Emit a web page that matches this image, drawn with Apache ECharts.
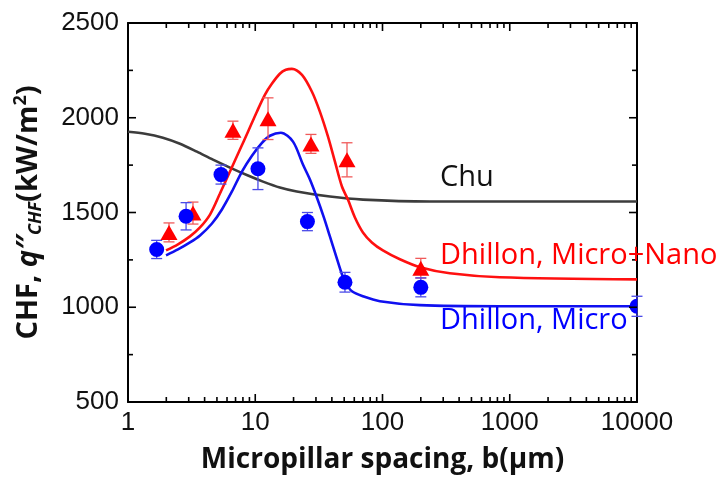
<!DOCTYPE html>
<html>
<head>
<meta charset="utf-8">
<script src="https://cdn.jsdelivr.net/npm/echarts@6/dist/echarts.min.js"></script>
<style>
html,body{margin:0;padding:0;background:#fff;}
#chart{width:722px;height:479px;}
</style>
</head>
<body>
<div id="chart"></div>
<script>
// ---- data ----
const blueX   = [1.68, 2.86, 5.38, 10.5, 25.7, 50.7, 200, 10000];
const blueY   = [1305, 1480, 1700, 1731, 1452, 1132, 1105, 1005];
const blueErr = [48, 72, 50, 110, 48, 52, 50, 53];

const redX   = [2.1, 3.24, 6.68, 12.6, 27.4, 52.6, 200];
const redY   = [1395, 1497, 1934, 1995, 1862, 1778, 1206];
const redErr = [50, 58, 48, 110, 50, 90, 52];

const redCurveX = [1.99, 2.47, 3.07, 3.68, 4.41, 5.28, 6.33, 7.58, 8.77, 10.3, 11.9, 13.5, 15.6, 17.4, 19.4,
                   23.3, 27.9, 32.2, 37.3, 42.3, 48.0, 53.5, 60.7, 70.2, 82.5, 100.7, 137, 197, 338, 836, 10000];
const redCurveY = [1300, 1332, 1374, 1421, 1489, 1600, 1716, 1832, 1926, 2032, 2121, 2179, 2232, 2253, 2258,
                   2226, 2137, 2032, 1900, 1768, 1637, 1568, 1474, 1395, 1342, 1300, 1253, 1211, 1179, 1158, 1147];

const blueCurveX = [1.99, 2.47, 3.07, 3.68, 4.57, 5.47, 6.56, 7.86, 9.42, 11.29, 13.05, 15.9, 19.8, 23.7, 26.9,
                    30.5, 34.6, 38.6, 43.0, 48.0, 51.6, 57.5, 70.2, 95.4, 197, 836, 10000];
const blueCurveY = [1274, 1305, 1342, 1379, 1442, 1516, 1611, 1716, 1800, 1868, 1905, 1921, 1874, 1753, 1674,
                    1579, 1474, 1374, 1274, 1174, 1126, 1084, 1058, 1032, 1011, 1005, 1005];

const grayCurveX = [1, 1.36, 1.88, 2.56, 3.48, 4.65, 6.33, 8.77, 11.5, 15.6, 21.2, 38.6, 70.2, 235, 10000];
const grayCurveY = [1926, 1916, 1895, 1863, 1821, 1779, 1737, 1695, 1663, 1632, 1611, 1584, 1568, 1558, 1558];

const xTickLabels = ['1', '10', '100', '1000', '10000'];
const yTickLabels = ['500', '1000', '1500', '2000', '2500'];
const xMajorTicks = [1, 10, 100, 1000, 10000];
const xMinorTicks = [2,3,4,5,6,7,8,9,20,30,40,50,60,70,80,90,200,300,400,500,600,700,800,900,2000,3000,4000,5000,6000,7000,8000,9000];
const yMajorTicks = [500, 1000, 1500, 2000, 2500];
const yMinorTicks = [750, 1250, 1750, 2250];

const curveLabels = ['Chu', 'Dhillon, Micro+Nano', 'Dhillon, Micro'];

// ---- helpers ----
const zip = (xs, ys) => xs.map((x, i) => [x, ys[i]]);
const zip3 = (xs, ys, es) => xs.map((x, i) => [x, ys[i], es[i]]);
const X_MIN = 1, X_MAX = 10000, Y_MIN = 500, Y_MAX = 2500;
const MAJOR_LEN = 8, MINOR_LEN = 5;

function errorBarRender(color) {
  return function (params, api) {
    const x = api.value(0), y = api.value(1), e = api.value(2);
    const top = api.coord([x, y + e]);
    const bot = api.coord([x, y - e]);
    const hw = 5.5;
    const st = { stroke: color, lineWidth: 1.3 };
    return {
      type: 'group',
      children: [
        { type: 'line', shape: { x1: top[0], y1: top[1], x2: bot[0], y2: bot[1] }, style: st },
        { type: 'line', shape: { x1: top[0] - hw, y1: top[1], x2: top[0] + hw, y2: top[1] }, style: st },
        { type: 'line', shape: { x1: bot[0] - hw, y1: bot[1], x2: bot[0] + hw, y2: bot[1] }, style: st }
      ]
    };
  };
}

// x ticks (bottom + top); data item: [x, yInRange, isMajor]
function xTickRender(params, api) {
  const v = api.value(0), L = api.value(2) ? MAJOR_LEN : MINOR_LEN;
  const b = api.coord([v, Y_MIN]);
  const t = api.coord([v, Y_MAX]);
  const st = { stroke: '#000000', lineWidth: 1.6 };
  return {
    type: 'group',
    children: [
      { type: 'line', shape: { x1: b[0], y1: b[1], x2: b[0], y2: b[1] - L }, style: st },
      { type: 'line', shape: { x1: t[0], y1: t[1], x2: t[0], y2: t[1] + L }, style: st }
    ]
  };
}
// y ticks (left + right); data item: [xInRange, y, isMajor]
function yTickRender(params, api) {
  const v = api.value(1), L = api.value(2) ? MAJOR_LEN : MINOR_LEN;
  const l = api.coord([X_MIN, v]);
  const r = api.coord([X_MAX, v]);
  const st = { stroke: '#000000', lineWidth: 1.6 };
  return {
    type: 'group',
    children: [
      { type: 'line', shape: { x1: l[0], y1: l[1], x2: l[0] + L, y2: l[1] }, style: st },
      { type: 'line', shape: { x1: r[0], y1: r[1], x2: r[0] - L, y2: r[1] }, style: st }
    ]
  };
}
// points clipped to the plot rectangle
function pointRender(kind, color) {
  return function (params, api) {
    const p = api.coord([api.value(0), api.value(1)]);
    const tl = api.coord([X_MIN, Y_MAX]);
    const br = api.coord([X_MAX, Y_MIN]);
    const clip = { type: 'rect', shape: { x: tl[0], y: tl[1], width: br[0] - tl[0], height: br[1] - tl[1] } };
    if (kind === 'circle') {
      return { type: 'circle', shape: { cx: p[0], cy: p[1], r: 7.5 }, style: { fill: color }, clipPath: clip };
    }
    const w = 8.5, h = 7.5;
    return {
      type: 'polygon',
      shape: { points: [[p[0], p[1] - h], [p[0] + w, p[1] + h], [p[0] - w, p[1] + h]] },
      style: { fill: color }, clipPath: clip
    };
  };
}

const chart = echarts.init(document.getElementById('chart'), null, { renderer: 'canvas' });

const xFmt = v => { const i = Math.round(Math.log10(v)); return xTickLabels[i] !== undefined ? xTickLabels[i] : ''; };
const yFmt = v => { const i = Math.round((v - 500) / 500); return yTickLabels[i] !== undefined ? yTickLabels[i] : ''; };

const axisLine = { show: true, lineStyle: { color: '#000', width: 2 } };
const fontTick = 'Liberation Sans';

const xTickData = xMajorTicks.map(v => [v, 1000, 1]).concat(xMinorTicks.map(v => [v, 1000, 0]));
const yTickData = yMajorTicks.map(v => [10, v, 1]).concat(yMinorTicks.map(v => [10, v, 0]));

const option = {
  animation: false,
  backgroundColor: '#fff',
  grid: { left: 128, right: 85, top: 23, bottom: 76, containLabel: false },
  xAxis: [
    {
      type: 'log', logBase: 10, min: X_MIN, max: X_MAX, position: 'bottom',
      axisLine: axisLine, axisTick: { show: false },
      axisLabel: { show: true, formatter: xFmt, fontFamily: fontTick, fontSize: 26, color: '#111', margin: 8 },
      splitLine: { show: false },
      name: 'Micropillar spacing, b(μm)', nameLocation: 'middle', nameGap: 44,
      nameTextStyle: { fontFamily: 'Open Sans', fontWeight: 'bold', fontSize: 28, color: '#111' }
    },
    {
      type: 'log', logBase: 10, min: X_MIN, max: X_MAX, position: 'top',
      axisLine: axisLine, axisTick: { show: false },
      axisLabel: { show: false }, splitLine: { show: false }
    }
  ],
  yAxis: [
    {
      type: 'value', min: Y_MIN, max: Y_MAX, interval: 500, position: 'left',
      axisLine: axisLine, axisTick: { show: false },
      axisLabel: { formatter: yFmt, fontFamily: fontTick, fontSize: 26, color: '#111', margin: 9 },
      splitLine: { show: false },
      name: '{a|CHF, }{q|q″}{s|CHF}{a|(kW/m}{p|2}{a|)}',
      nameLocation: 'middle', nameGap: 82, nameRotate: 90,
      nameTextStyle: {
        rich: {
          a: { fontFamily: 'Open Sans', fontWeight: 'bold', fontSize: 29, color: '#111' },
          q: { fontFamily: 'Open Sans', fontWeight: 'bold', fontStyle: 'italic', fontSize: 29, color: '#111' },
          s: { fontFamily: 'Open Sans', fontWeight: 'bold', fontStyle: 'italic', fontSize: 18, color: '#111', padding: [14, 0, 0, 0] },
          p: { fontFamily: 'Open Sans', fontWeight: 'bold', fontSize: 18, color: '#111', padding: [0, 0, 16, 0] }
        }
      }
    },
    {
      type: 'value', min: Y_MIN, max: Y_MAX, interval: 500, position: 'right',
      axisLine: axisLine, axisTick: { show: false },
      axisLabel: { show: false }, splitLine: { show: false }
    }
  ],
  series: [
    { type: 'custom', name: 'xTicks', renderItem: xTickRender, data: xTickData, silent: true, z: 6 },
    { type: 'custom', name: 'yTicks', renderItem: yTickRender, data: yTickData, silent: true, z: 6 },
    {
      type: 'line', name: 'Chu', data: zip(grayCurveX, grayCurveY), smooth: 0.3,
      showSymbol: false, lineStyle: { color: '#3c3c3c', width: 2.6 }, z: 2
    },
    {
      type: 'line', name: 'Dhillon, Micro+Nano', data: zip(redCurveX, redCurveY), smooth: 0.3,
      showSymbol: false, lineStyle: { color: '#ff1010', width: 2.6 }, z: 2
    },
    {
      type: 'line', name: 'Dhillon, Micro', data: zip(blueCurveX, blueCurveY), smooth: 0.3,
      showSymbol: false, lineStyle: { color: '#1010f0', width: 2.6 }, z: 2
    },
    { type: 'custom', name: 'redErr', renderItem: errorBarRender('#f05a5a'), data: zip3(redX, redY, redErr), z: 3 },
    { type: 'custom', name: 'blueErr', renderItem: errorBarRender('#4a4ae8'), data: zip3(blueX, blueY, blueErr), z: 3 },
    { type: 'custom', name: 'redPts', renderItem: pointRender('triangle', '#ff0000'), data: zip(redX, redY), z: 4 },
    { type: 'custom', name: 'bluePts', renderItem: pointRender('circle', '#0000ff'), data: zip(blueX, blueY), z: 4 }
  ],
  graphic: [
    { type: 'text', left: 440, top: 163, style: { text: curveLabels[0], fontFamily: 'Open Sans', fontSize: 29, fill: '#111' }, z: 10 },
    { type: 'text', left: 440, top: 241, style: { text: curveLabels[1], fontFamily: 'Open Sans', fontSize: 29, fill: '#ff0000' }, z: 10 },
    { type: 'text', left: 440, top: 306, style: { text: curveLabels[2], fontFamily: 'Open Sans', fontSize: 29, fill: '#0000ff' }, z: 10 }
  ]
};

chart.setOption(option);
</script>
</body>
</html>
